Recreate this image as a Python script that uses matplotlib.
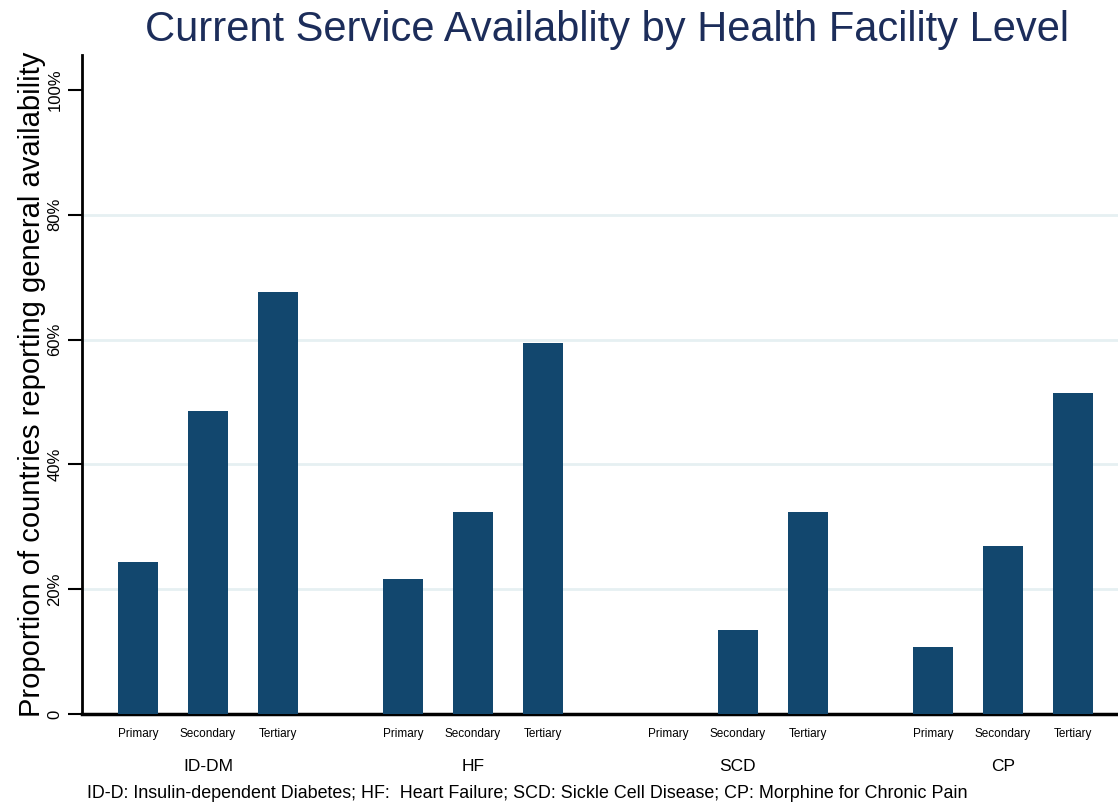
import numpy as np
import matplotlib.pyplot as plt

plt.rcParams['font.family'] = ['Liberation Sans', 'DejaVu Sans']

# data
groups = ['ID-DM', 'HF', 'SCD', 'CP']
levels = ['Primary', 'Secondary', 'Tertiary']
primary = [24.3, 21.6, 0.0, 10.8]
secondary = [48.6, 32.4, 13.5, 27.0]
tertiary = [67.6, 59.5, 32.4, 51.4]
yticks = [0, 20, 40, 60, 80, 100]
ytick_labels = ['0', '20%', '40%', '60%', '80%', '100%']

bar_color = '#12476e'
grid_color = '#e6f0f2'
gap = 0.786

fig = plt.figure(figsize=(11.18, 8.02), dpi=100)
ax = fig.add_axes([0.0733, 0.1097, 0.9267, 0.8217])

values = [primary, secondary, tertiary]
xpos = []
xlab = []
for g in range(len(groups)):
	for j in range(len(levels)):
		x = g*(3+gap) + j
		xpos.append(x)
		xlab.append(levels[j])
		ax.bar(x, values[j][g], width=0.56, color=bar_color, zorder=3)

ax.set_xlim(-0.8, xpos[-1]+0.643)
ax.set_ylim(0, 105.6)

for y in yticks[1:-1]:
	ax.axhline(y, color=grid_color, lw=2, zorder=1)

ax.set_yticks(yticks)
ax.set_yticklabels(ytick_labels, rotation=90, va='center', fontsize=12)
ax.tick_params(axis='y', length=10, width=1.5, pad=4)
ax.set_xticks(xpos)
ax.set_xticklabels(xlab, fontsize=8.5)
ax.tick_params(axis='x', length=0, pad=10)

for s in ['top', 'right']:
	ax.spines[s].set_visible(False)
ax.spines['left'].set_linewidth(2)
ax.spines['bottom'].set_linewidth(2.5)

# group labels
for g in range(len(groups)):
	xc = g*(3+gap) + 1
	ax.text(xc, -0.08, groups[g], transform=ax.get_xaxis_transform(),
		ha='center', va='center', fontsize=12.5)

ax.set_ylabel('Proportion of countries reporting general availability', fontsize=21, labelpad=1)
fig.text(0.543, 0.962, 'Current Service Availablity by Health Facility Level',
	ha='center', va='center', fontsize=30, color='#1c2d5a')
fig.text(0.078, 0.011, 'ID-D: Insulin-dependent Diabetes; HF:  Heart Failure; SCD: Sickle Cell Disease; CP: Morphine for Chronic Pain',
	ha='left', va='center', fontsize=12.9)

fig.savefig('out.png', dpi=100)
